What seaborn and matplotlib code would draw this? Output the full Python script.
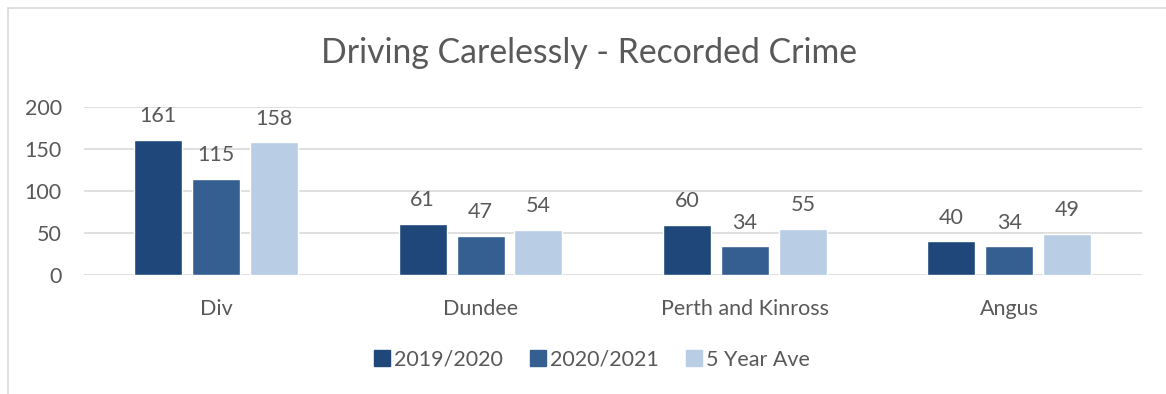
import pandas as pd
import seaborn as sns
import matplotlib.pyplot as plt
from matplotlib.lines import Line2D

# data
areas = ['Div', 'Dundee', 'Perth and Kinross', 'Angus']
series = ['2019/2020', '2020/2021', '5 Year Ave']
y2019 = [161, 61, 60, 40]
y2020 = [115, 47, 34, 34]
avg5 = [158, 54, 55, 49]
colours = ['#1F477A', '#355F91', '#B9CDE5']

df = pd.DataFrame({
    'Area': areas * 3,
    'Series': [s for s in series for _ in areas],
    'Count': y2019 + y2020 + avg5,
})

sns.set_style('white')
plt.rcParams['font.family'] = ['Lato', 'DejaVu Sans']
text_col = '#595959'
fs = 15.5

fig = plt.figure(figsize=(11.66, 3.94), dpi=100)
ax = fig.add_axes([0.072, 0.302, 0.907, 0.426])

sns.barplot(data=df, x='Area', y='Count', hue='Series', palette=colours,
            width=0.657, gap=0.17, ax=ax, legend=False, saturation=1)

for cont in ax.containers:
    ax.bar_label(cont, padding=10, fontsize=fs, color=text_col)

ax.set_ylim(0, 200)
ax.set_yticks([0, 50, 100, 150, 200])
ax.set_xlim(-0.5, 3.5)
ax.yaxis.grid(True, color='#D9D9D9', linewidth=1.2)
ax.set_axisbelow(True)
for s in ax.spines.values():
    s.set_visible(False)
ax.tick_params(axis='both', length=0, labelsize=fs, labelcolor=text_col)
ax.tick_params(axis='y', pad=16)
ax.tick_params(axis='x', pad=17)
ax.set_xlabel('')
ax.set_ylabel('')

fig.text(0.505, 0.865, 'Driving Carelessly - Recorded Crime', ha='center', va='center',
         fontsize=24.3, color=text_col)

handles = [Line2D([], [], marker='s', linestyle='', markersize=12, color=c) for c in colours]
fig.legend(handles, series, loc='center', bbox_to_anchor=(0.507, 0.087), ncol=3,
           frameon=False, fontsize=fs, labelcolor=text_col, handletextpad=0.1,
           columnspacing=1.2, handlelength=0.9)

# chart frame (top and left edges visible in the crop)
fig.add_artist(Line2D([8 / 1166, 8 / 1166], [0, 1 - 8 / 394], transform=fig.transFigure,
                      color='#D9D9D9', linewidth=1.2))
fig.add_artist(Line2D([8 / 1166, 1], [1 - 8 / 394, 1 - 8 / 394], transform=fig.transFigure,
                      color='#D9D9D9', linewidth=1.2))

fig.savefig('out.png', dpi=100, facecolor='white')
